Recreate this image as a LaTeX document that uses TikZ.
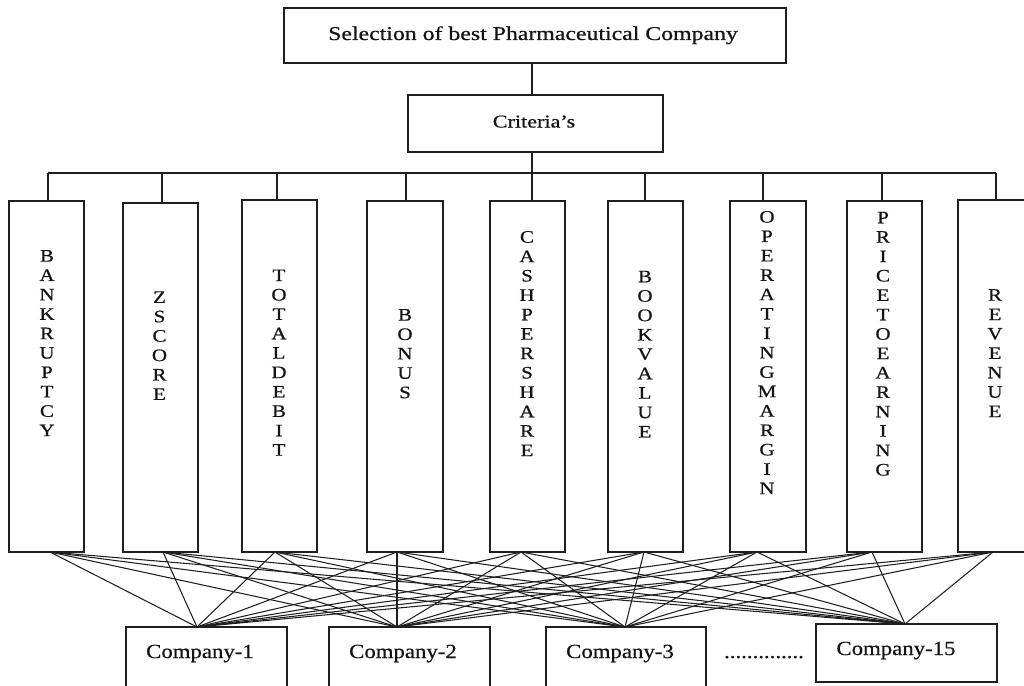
\documentclass[tikz,border=0pt]{standalone}
\usepackage{fontspec}
\setmainfont{Liberation Serif}[FakeBold=0.6]
\newcommand\vstack[1]{\scalebox{1.2}[1]{\begin{tabular}{@{}c@{}}#1\end{tabular}}}
\begin{document}
\begin{tikzpicture}[x=1pt,y=-1pt,
  box/.style={draw=black!88,line width=1.3pt,rectangle,inner sep=0pt},
  link/.style={draw=black!88,line width=1.05pt},
  lab/.style={inner sep=0pt,anchor=base,text=black!92},
  vlab/.style={inner sep=0pt,anchor=center,text=black!92,font=\fontsize{17.5}{19.4}\selectfont}
]
\useasboundingbox (0,0) rectangle (1024,685);
\clip (0,0) rectangle (1024,685);

% top boxes
\node[box,minimum width=502pt,minimum height=55pt] (title) at (535,35.5) {};
\node[lab,font=\fontsize{19.5}{22}\selectfont] (titletxt) at (533,40) {\scalebox{1.22}[1]{Selection of best Pharmaceutical Company}};
\node[box,minimum width=255pt,minimum height=57pt] (crit) at (535.5,123.5) {};
\node[lab,font=\fontsize{18}{20}\selectfont] (crittxt) at (534,127.5) {\scalebox{1.23}[1]{Criteria’s}};

% criteria boxes
\node[box,minimum width=75pt,minimum height=351pt] (cr1) at (46.5,376.5) {};
\node[box,minimum width=75pt,minimum height=349pt] (cr2) at (160.5,377.5) {};
\node[box,minimum width=75pt,minimum height=352pt] (cr3) at (279.5,376) {};
\node[box,minimum width=76pt,minimum height=351pt] (cr4) at (405,376.5) {};
\node[box,minimum width=75pt,minimum height=351pt] (cr5) at (527.5,376.5) {};
\node[box,minimum width=75pt,minimum height=351pt] (cr6) at (645.5,376.5) {};
\node[box,minimum width=76pt,minimum height=351pt] (cr7) at (768,376.5) {};
\node[box,minimum width=75pt,minimum height=351pt] (cr8) at (884.5,376.5) {};
\node[box,minimum width=75pt,minimum height=352pt] (cr9) at (995.5,376) {};

\node[vlab] (l1) at (47,345) {\vstack{B\\A\\N\\K\\R\\U\\P\\T\\C\\Y}};
\node[vlab] (l2) at (159.5,347.5) {\vstack{Z\\S\\C\\O\\R\\E}};
\node[vlab] (l3) at (279,364.5) {\vstack{T\\O\\T\\A\\L\\D\\E\\B\\I\\T}};
\node[vlab] (l4) at (405,355.5) {\vstack{B\\O\\N\\U\\S}};
\node[vlab] (l5) at (527,345.5) {\vstack{C\\A\\S\\H\\P\\E\\R\\S\\H\\A\\R\\E}};
\node[vlab] (l6) at (645,356) {\vstack{B\\O\\O\\K\\V\\A\\L\\U\\E}};
\node[vlab] (l7) at (767,354.5) {\vstack{O\\P\\E\\R\\A\\T\\I\\N\\G\\M\\A\\R\\G\\I\\N}};
\node[vlab] (l8) at (883,345.5) {\vstack{P\\R\\I\\C\\E\\T\\O\\E\\A\\R\\N\\I\\N\\G}};
\node[vlab] (l9) at (995,355) {\vstack{R\\E\\V\\E\\N\\U\\E}};

% company boxes
\node[box,minimum width=161pt,minimum height=80pt] (c1) at (206.5,667) {};
\node[box,minimum width=161pt,minimum height=80pt] (c2) at (409.5,667) {};
\node[box,minimum width=160pt,minimum height=80pt] (c3) at (626,667) {};
\node[box,minimum width=181pt,minimum height=58pt] (c15) at (906.5,653) {};
\node[lab,font=\fontsize{20}{22}\selectfont] (c1t) at (200,658) {\scalebox{1.14}[1]{Company-1}};
\node[lab,font=\fontsize{20}{22}\selectfont] (c2t) at (403,658) {\scalebox{1.14}[1]{Company-2}};
\node[lab,font=\fontsize{20}{22}\selectfont] (c3t) at (620,658) {\scalebox{1.14}[1]{Company-3}};
\node[lab,font=\fontsize{20}{22}\selectfont] (c15t) at (896,655) {\scalebox{1.14}[1]{Company-15}};
\node[lab,font=\fontsize{20}{22}\selectfont] (dots) at (764,658) {\scalebox{1.14}[1]{..............}};

% tree connectors
\coordinate (d1) at (48,173);
\coordinate (d2) at (162,173);
\coordinate (d3) at (277,173);
\coordinate (d4) at (406,173);
\coordinate (d5) at (532,173);
\coordinate (d6) at (645,173);
\coordinate (d7) at (763,173);
\coordinate (d8) at (882,173);
\coordinate (d9) at (996,173);
\draw[link] (d5 |- title.south) -- (d5 |- crit.north);
\draw[link] (d5 |- crit.south) -- (d5);
\draw[link] (d1) -- (d9);
\foreach \i in {1,...,9} {\draw[link] (d\i) -- (d\i |- cr\i.north);}

% bipartite connectors
\coordinate (o1) at (50,552);
\coordinate (o2) at (163,552);
\coordinate (o3) at (275,552);
\coordinate (o4) at (397,552);
\coordinate (o5) at (521,552);
\coordinate (o6) at (644,552);
\coordinate (o7) at (757,552);
\coordinate (o8) at (872,552);
\coordinate (o9) at (993,552);
\coordinate (t1) at (197,627);
\coordinate (t2) at (397,627);
\coordinate (t3) at (625,627);
\coordinate (t4) at (905,624);
\foreach \i in {1,...,9} {\foreach \j in {1,...,4} {\draw[link] (o\i) -- (t\j);}}
\end{tikzpicture}
\end{document}
